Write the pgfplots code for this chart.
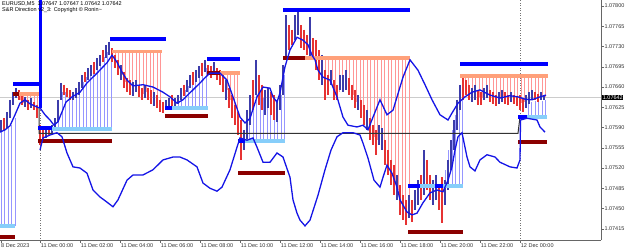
\documentclass[border=0pt]{standalone}
\usepackage{fontspec}
\setmainfont{Liberation Sans}
\usepackage{pgfplots}
\pgfplotsset{compat=1.18}
\definecolor{cblue}{RGB}{0,0,255}
\definecolor{ccurve}{RGB}{20,20,230}
\definecolor{clblue}{RGB}{135,206,250}
\definecolor{cdred}{RGB}{139,0,0}
\definecolor{csalmon}{RGB}{255,160,122}
\definecolor{chsalmon}{RGB}{255,150,150}
\definecolor{chlav}{RGB}{150,150,255}
\definecolor{cup}{RGB}{60,60,170}
\definecolor{cdown}{RGB}{230,50,50}
\begin{document}
\begin{tikzpicture}[x=1pt,y=1pt]
\useasboundingbox (0,-10) rectangle (625,240);
\begin{axis}[
  scale only axis, width=601pt, height=240pt, at={(0,0)}, anchor=south west,
  xmin=0, xmax=601, ymin=1.073956, ymax=1.078104,
  axis x line*=bottom, axis y line*=right,
  axis line style={draw=black!60, line width=0.6pt},
  tick align=outside, major tick length=2.5pt,
  tick style={black!60, line width=0.5pt},
  xtick={1,40.7,80.7,120.7,160.7,200.7,240.7,280.7,320.7,360.7,400.7,440.7,480.7,520.7},
  xticklabels={8 Dec 2023,11 Dec 00:00,11 Dec 02:00,11 Dec 04:00,11 Dec 06:00,11 Dec 08:00,11 Dec 10:00,11 Dec 12:00,11 Dec 14:00,11 Dec 16:00,11 Dec 18:00,11 Dec 20:00,11 Dec 22:00,12 Dec 00:00},
  ytick={1.07415,1.07450,1.07485,1.07520,1.07555,1.07590,1.07625,1.07660,1.07695,1.07730,1.07765,1.07800},
  yticklabels={1.07415,1.07450,1.07485,1.07520,1.07555,1.07590,1.07625,1.07660,1.07695,1.07730,1.07765,1.07800},
  xticklabel style={anchor=north west, inner sep=0.5pt, xshift=-0.5pt, font=\fontsize{5.5}{6}\selectfont, text=black!80},
  yticklabel style={anchor=west, inner sep=0.8pt, font=\fontsize{5.5}{6}\selectfont, text=black!80},
  scaled y ticks=false,
  unbounded coords=jump,
]
% day separators and current price line
\addplot[black!55, dotted, line width=0.5pt] coordinates {(40.7,1.0739)(40.7,1.0782)};
\addplot[black!55, dotted, line width=0.5pt] coordinates {(520.7,1.0739)(520.7,1.0782)};
\addplot[black!20, line width=0.5pt] coordinates {(0,1.07642)(601,1.07642)};
% lavender histograms
\addplot[chlav, line width=0.7pt] coordinates {
(1,1.07420)(1,1.07586)(1,nan)(4.5,1.07420)(4.5,1.07586)(4.5,nan)(8,1.07420)(8,1.07589)(8,nan)(11.5,1.07420)(11.5,1.07594)(11.5,nan)(15,1.07420)(15,1.07606)(15,nan)
(55,1.07587)(55,1.07594)(55,nan)(58.5,1.07587)(58.5,1.07620)(58.5,nan)(62,1.07587)(62,1.07651)(62,nan)(65.5,1.07587)(65.5,1.07651)(65.5,nan)(69,1.07587)(69,1.07646)(69,nan)(72.5,1.07587)(72.5,1.07645)(72.5,nan)(76,1.07587)(76,1.07650)(76,nan)(79.5,1.07587)(79.5,1.07658)(79.5,nan)(83,1.07587)(83,1.07669)(83,nan)(86.5,1.07587)(86.5,1.07677)(86.5,nan)(90,1.07587)(90,1.07686)(90,nan)(93.5,1.07587)(93.5,1.07689)(93.5,nan)(97,1.07587)(97,1.07696)(97,nan)(100.5,1.07587)(100.5,1.07703)(100.5,nan)(104,1.07587)(104,1.07712)(104,nan)(107.5,1.07587)(107.5,1.07721)(107.5,nan)(111,1.07587)(111,1.07715)(111,nan)
(178,1.07624)(178,1.07638)(178,nan)(181.5,1.07624)(181.5,1.07646)(181.5,nan)(185,1.07624)(185,1.07655)(185,nan)(188.5,1.07624)(188.5,1.07662)(188.5,nan)(192,1.07624)(192,1.07672)(192,nan)(195.5,1.07624)(195.5,1.07679)(195.5,nan)(199,1.07624)(199,1.07686)(199,nan)(202.5,1.07624)(202.5,1.07689)(202.5,nan)(206,1.07624)(206,1.07693)(206,nan)
(246,1.07567)(246,1.07577)(246,nan)(249.5,1.07567)(249.5,1.07612)(249.5,nan)(253,1.07567)(253,1.07638)(253,nan)(256.5,1.07567)(256.5,1.07664)(256.5,nan)(260,1.07567)(260,1.07655)(260,nan)(263.5,1.07567)(263.5,1.07641)(263.5,nan)(267,1.07567)(267,1.07641)(267,nan)(270.5,1.07567)(270.5,1.07638)(270.5,nan)(274,1.07567)(274,1.07629)(274,nan)(277.5,1.07567)(277.5,1.07624)(277.5,nan)(281,1.07567)(281,1.07646)(281,nan)(284.5,1.07567)(284.5,1.07681)(284.5,nan)
(445,1.07489)(445,1.07517)(445,nan)(448.5,1.07489)(448.5,1.07551)(448.5,nan)(452,1.07489)(452,1.07586)(452,nan)(455.5,1.07489)(455.5,1.07612)(455.5,nan)(459,1.07489)(459,1.07629)(459,nan)(462.5,1.07489)(462.5,1.07638)(462.5,nan)
(528,1.07608)(528,1.07631)(528,nan)(531.5,1.07608)(531.5,1.07634)(531.5,nan)(535,1.07608)(535,1.07636)(535,nan)(538.5,1.07608)(538.5,1.07634)(538.5,nan)(542,1.07608)(542,1.07636)(542,nan)(545.5,1.07608)(545.5,1.07638)(545.5,nan)
};
% salmon histograms
\addplot[chsalmon, line width=0.7pt] coordinates {
(20,1.07648)(20,1.07638)(20,nan)(23.5,1.07648)(23.5,1.07632)(23.5,nan)(27,1.07648)(27,1.07627)(27,nan)(30.5,1.07648)(30.5,1.07629)(30.5,nan)(34,1.07648)(34,1.07624)(34,nan)(37.5,1.07648)(37.5,1.07617)(37.5,nan)
(115,1.07721)(115,1.07703)(115,nan)(118.5,1.07721)(118.5,1.07693)(118.5,nan)(122,1.07721)(122,1.07681)(122,nan)(125.5,1.07721)(125.5,1.07669)(125.5,nan)(129,1.07721)(129,1.07660)(129,nan)(132.5,1.07721)(132.5,1.07655)(132.5,nan)(136,1.07721)(136,1.07660)(136,nan)(139.5,1.07721)(139.5,1.07655)(139.5,nan)(143,1.07721)(143,1.07648)(143,nan)(146.5,1.07721)(146.5,1.07651)(146.5,nan)(150,1.07721)(150,1.07646)(150,nan)(153.5,1.07721)(153.5,1.07641)(153.5,nan)(157,1.07721)(157,1.07636)(157,nan)(160.5,1.07721)(160.5,1.07629)(160.5,nan)
(220,1.07684)(220,1.07676)(220,nan)(223.5,1.07684)(223.5,1.07665)(223.5,nan)(227,1.07684)(227,1.07655)(227,nan)(230.5,1.07684)(230.5,1.07638)(230.5,nan)(234,1.07684)(234,1.07620)(234,nan)(237.5,1.07684)(237.5,1.07603)(237.5,nan)
(318,1.07710)(318,1.07689)(318,nan)(321.5,1.07710)(321.5,1.07681)(321.5,nan)(325,1.07710)(325,1.07658)(325,nan)(328.5,1.07710)(328.5,1.07655)(328.5,nan)(332,1.07710)(332,1.07672)(332,nan)(335.5,1.07710)(335.5,1.07651)(335.5,nan)(339,1.07710)(339,1.07651)(339,nan)(342.5,1.07710)(342.5,1.07664)(342.5,nan)(346,1.07710)(346,1.07669)(346,nan)(349.5,1.07710)(349.5,1.07658)(349.5,nan)(353,1.07710)(353,1.07646)(353,nan)(356.5,1.07710)(356.5,1.07634)(356.5,nan)(360,1.07710)(360,1.07620)(360,nan)(363.5,1.07710)(363.5,1.07612)(363.5,nan)(367,1.07710)(367,1.07600)(367,nan)(370.5,1.07710)(370.5,1.07586)(370.5,nan)(374,1.07710)(374,1.07574)(374,nan)(377.5,1.07710)(377.5,1.07568)(377.5,nan)(381,1.07710)(381,1.07574)(381,nan)(384.5,1.07710)(384.5,1.07551)(384.5,nan)(388,1.07710)(388,1.07530)(388,nan)(391.5,1.07710)(391.5,1.07513)(391.5,nan)(395,1.07710)(395,1.07496)(395,nan)(398.5,1.07710)(398.5,1.07482)(398.5,nan)(402,1.07710)(402,1.07456)(402,nan)(405.5,1.07710)(405.5,1.07444)(405.5,nan)(409,1.07710)(409,1.07453)(409,nan)
(465,1.07679)(465,1.07658)(465,nan)(468.5,1.07679)(468.5,1.07651)(468.5,nan)(472,1.07679)(472,1.07646)(472,nan)(475.5,1.07679)(475.5,1.07650)(475.5,nan)(479,1.07679)(479,1.07643)(479,nan)(482.5,1.07679)(482.5,1.07641)(482.5,nan)(486,1.07679)(486,1.07650)(486,nan)(489.5,1.07679)(489.5,1.07646)(489.5,nan)(493,1.07679)(493,1.07641)(493,nan)(496.5,1.07679)(496.5,1.07638)(496.5,nan)(500,1.07679)(500,1.07641)(500,nan)(503.5,1.07679)(503.5,1.07645)(503.5,nan)(507,1.07679)(507,1.07639)(507,nan)(510.5,1.07679)(510.5,1.07643)(510.5,nan)(514,1.07679)(514,1.07639)(514,nan)(517.5,1.07679)(517.5,1.07636)(517.5,nan)(521,1.07679)(521,1.07632)(521,nan)(524.5,1.07679)(524.5,1.07634)(524.5,nan)(528,1.07679)(528,1.07641)(528,nan)(531.5,1.07679)(531.5,1.07646)(531.5,nan)(535,1.07679)(535,1.07645)(535,nan)(538.5,1.07679)(538.5,1.07643)(538.5,nan)(542,1.07679)(542,1.07645)(542,nan)(545.5,1.07679)(545.5,1.07643)(545.5,nan)
};
% bullish candles
\addplot[cup, line width=1.2pt] coordinates {
(1,1.07603)(1,1.07582)(1,nan)(7,1.07617)(7,1.07589)(7,nan)(10,1.07638)(10,1.07606)(10,nan)(13,1.07651)(13,1.07629)(13,nan)(16,1.07658)(16,1.07641)(16,nan)(25,1.07643)(25,1.07625)(25,nan)(31,1.07641)(31,1.07624)(31,nan)
(46,1.07589)(46,1.07572)(46,nan)(52,1.07594)(52,1.07579)(52,nan)(55,1.07606)(55,1.07586)(55,nan)(58,1.07638)(58,1.07600)(58,nan)(61,1.07667)(61,1.07638)(61,nan)(73,1.07651)(73,1.07638)(73,nan)(76,1.07658)(76,1.07641)(76,nan)(79,1.07669)(79,1.07646)(79,nan)(82,1.07681)(82,1.07658)(82,nan)(88,1.07693)(88,1.07672)(88,nan)(91,1.07698)(91,1.07679)(91,nan)(97,1.07710)(97,1.07689)(97,nan)(100,1.07715)(100,1.07696)(100,nan)(106,1.07733)(106,1.07710)(106,nan)(109,1.07738)(109,1.07715)(109,nan)
(121,1.07698)(121,1.07672)(121,nan)(133,1.07669)(133,1.07645)(133,nan)(136,1.07672)(136,1.07651)(136,nan)(145,1.07664)(145,1.07641)(145,nan)(154,1.07651)(154,1.07627)(154,nan)(166,1.07638)(166,1.07620)(166,nan)(169,1.07641)(169,1.07624)(169,nan)(175,1.07641)(175,1.07627)(175,nan)(178,1.07646)(178,1.07631)(178,nan)(181,1.07658)(181,1.07638)(181,nan)(187,1.07672)(187,1.07651)(187,nan)(190,1.07681)(190,1.07658)(190,nan)(196,1.07689)(196,1.07669)(196,nan)(199,1.07696)(199,1.07676)(199,nan)(205,1.07707)(205,1.07686)(205,nan)(214,1.07703)(214,1.07681)(214,nan)(226,1.07672)(226,1.07638)(226,nan)
(244,1.07586)(244,1.07551)(244,nan)(247,1.07620)(247,1.07568)(247,nan)(250,1.07646)(250,1.07594)(250,nan)(256,1.07707)(256,1.07646)(256,nan)(265,1.07655)(265,1.07612)(265,nan)(268,1.07658)(268,1.07624)(268,nan)(277,1.07638)(277,1.07600)(277,nan)(280,1.07664)(280,1.07620)(280,nan)(283,1.07698)(283,1.07646)(283,nan)(286,1.07784)(286,1.07707)(286,nan)(295,1.07784)(295,1.07741)(295,nan)(298,1.07790)(298,1.07750)(298,nan)(310,1.07781)(310,1.07712)(310,nan)(322,1.07715)(322,1.07664)(322,nan)(331,1.07689)(331,1.07664)(331,nan)(340,1.07681)(340,1.07655)(340,nan)(343,1.07681)(343,1.07651)(343,nan)(346,1.07689)(346,1.07655)(346,nan)(358,1.07646)(358,1.07620)(358,nan)(367,1.07620)(367,1.07586)(367,nan)(379,1.07594)(379,1.07560)(379,nan)(382,1.07589)(382,1.07551)(382,nan)
(397,1.07508)(397,1.07465)(397,nan)(409,1.07473)(409,1.07434)(409,nan)(415,1.07482)(415,1.07447)(415,nan)(418,1.07499)(418,1.07456)(418,nan)(424,1.07551)(424,1.07473)(424,nan)(433,1.07499)(433,1.07456)(433,nan)(436,1.07508)(436,1.07465)(436,nan)(445,1.07499)(445,1.07456)(445,nan)(448,1.07534)(448,1.07482)(448,nan)(451,1.07568)(451,1.07517)(451,nan)(454,1.07603)(454,1.07551)(454,nan)(457,1.07638)(457,1.07586)(457,nan)(460,1.07664)(460,1.07620)(460,nan)(472,1.07658)(472,1.07634)(472,nan)(475,1.07664)(475,1.07638)(475,nan)(484,1.07658)(484,1.07638)(484,nan)(487,1.07664)(487,1.07641)(487,nan)(499,1.07651)(499,1.07631)(499,nan)(502,1.07655)(502,1.07634)(502,nan)(511,1.07651)(511,1.07634)(511,nan)(526,1.07646)(526,1.07624)(526,nan)(529,1.07651)(529,1.07631)(529,nan)(532,1.07655)(532,1.07638)(532,nan)(541,1.07651)(541,1.07638)(541,nan)(544,1.07647)(544,1.07638)(544,nan)
};
% bearish candles
\addplot[cdown, line width=1.2pt] coordinates {
(4,1.07606)(4,1.07586)(4,nan)(19,1.07655)(19,1.07638)(19,nan)(22,1.07646)(22,1.07629)(22,nan)(28,1.07638)(28,1.07620)(28,nan)(34,1.07634)(34,1.07620)(34,nan)(37,1.07629)(37,1.07606)(37,nan)(40,1.07594)(40,1.07560)(40,nan)(43,1.07586)(43,1.07565)(43,nan)(49,1.07593)(49,1.07575)(49,nan)
(64,1.07664)(64,1.07646)(64,nan)(67,1.07658)(67,1.07643)(67,nan)(70,1.07655)(70,1.07638)(70,nan)(85,1.07686)(85,1.07669)(85,nan)(94,1.07703)(94,1.07682)(94,nan)(103,1.07724)(103,1.07703)(103,nan)(112,1.07727)(112,1.07703)(112,nan)(115,1.07715)(115,1.07693)(115,nan)(118,1.07707)(118,1.07681)(118,nan)(124,1.07686)(124,1.07658)(124,nan)(127,1.07676)(127,1.07651)(127,nan)(130,1.07672)(130,1.07646)(130,nan)(139,1.07664)(139,1.07643)(139,nan)(142,1.07658)(142,1.07638)(142,nan)(148,1.07658)(148,1.07638)(148,nan)(151,1.07655)(151,1.07631)(151,nan)(157,1.07646)(157,1.07624)(157,nan)(160,1.07638)(160,1.07617)(160,nan)(163,1.07634)(163,1.07615)(163,nan)(172,1.07646)(172,1.07627)(172,nan)(184,1.07664)(184,1.07645)(184,nan)(193,1.07686)(193,1.07664)(193,nan)(202,1.07702)(202,1.07679)(202,nan)(208,1.07698)(208,1.07681)(208,nan)(211,1.07696)(211,1.07676)(211,nan)(217,1.07693)(217,1.07672)(217,nan)(220,1.07689)(220,1.07664)(220,nan)(223,1.07681)(223,1.07651)(223,nan)(229,1.07658)(229,1.07624)(229,nan)(232,1.07646)(232,1.07606)(232,nan)(235,1.07629)(235,1.07594)(235,nan)(238,1.07617)(238,1.07577)(238,nan)(241,1.07603)(241,1.07534)(241,nan)
(253,1.07672)(253,1.07620)(253,nan)(259,1.07681)(259,1.07629)(259,nan)(262,1.07664)(262,1.07620)(262,nan)(271,1.07651)(271,1.07612)(271,nan)(274,1.07646)(274,1.07603)(274,nan)(289,1.07767)(289,1.07724)(289,nan)(292,1.07759)(292,1.07733)(292,nan)(301,1.07767)(301,1.07727)(301,nan)(304,1.07759)(304,1.07724)(304,nan)(307,1.07750)(307,1.07715)(307,nan)(313,1.07745)(313,1.07707)(313,nan)(316,1.07741)(316,1.07689)(316,nan)(319,1.07724)(319,1.07672)(319,nan)(325,1.07689)(325,1.07638)(325,nan)(328,1.07681)(328,1.07646)(328,nan)(334,1.07672)(334,1.07638)(334,nan)(337,1.07664)(337,1.07638)(337,nan)(349,1.07676)(349,1.07646)(349,nan)(352,1.07664)(352,1.07638)(352,nan)(355,1.07655)(355,1.07624)(355,nan)(361,1.07638)(361,1.07606)(361,nan)(364,1.07629)(364,1.07594)(364,nan)(370,1.07606)(370,1.07568)(370,nan)(373,1.07594)(373,1.07560)(373,nan)(376,1.07586)(376,1.07543)(376,nan)
(385,1.07568)(385,1.07525)(385,nan)(388,1.07551)(388,1.07508)(388,nan)(391,1.07534)(391,1.07491)(391,nan)(394,1.07525)(394,1.07473)(394,nan)(400,1.07491)(400,1.07439)(400,nan)(403,1.07473)(403,1.07430)(403,nan)(406,1.07465)(406,1.07422)(406,nan)(412,1.07465)(412,1.07427)(412,nan)(421,1.07508)(421,1.07465)(421,nan)(427,1.07534)(427,1.07482)(427,nan)(430,1.07508)(430,1.07465)(430,nan)(439,1.07491)(439,1.07447)(439,nan)(442,1.07504)(442,1.07425)(442,nan)
(463,1.07681)(463,1.07638)(463,nan)(466,1.07672)(466,1.07646)(466,nan)(469,1.07664)(469,1.07638)(469,nan)(478,1.07655)(478,1.07629)(478,nan)(481,1.07651)(481,1.07629)(481,nan)(490,1.07655)(490,1.07634)(490,nan)(493,1.07651)(493,1.07631)(493,nan)(496,1.07646)(496,1.07627)(496,nan)(505,1.07651)(505,1.07631)(505,nan)(508,1.07646)(508,1.07629)(508,nan)(514,1.07646)(514,1.07631)(514,nan)(517,1.07645)(517,1.07627)(517,nan)(520,1.07646)(520,1.07620)(520,nan)(523,1.07641)(523,1.07617)(523,nan)(535,1.07651)(535,1.07638)(535,nan)(538,1.07648)(538,1.07634)(538,nan)
};
% black line
\addplot[black!80, line width=1pt] coordinates {(39,1.07624)(39,1.07580)(518,1.07580)(520,1.07608)};
% resistance segments (blue)
\addplot[cblue, line width=4pt] coordinates {(13,1.07665)(40,1.07665)};
\addplot[cblue, line width=4pt] coordinates {(110,1.07743)(166,1.07743)};
\addplot[cblue, line width=4pt] coordinates {(207,1.07708)(240,1.07708)};
\addplot[cblue, line width=4pt] coordinates {(283,1.07793)(410,1.07793)};
\addplot[cblue, line width=4pt] coordinates {(460,1.07700)(548,1.07700)};
% salmon levels with dark red starts
\addplot[cdred, line width=3.5pt] coordinates {(13,1.07648)(19,1.07648)};
\addplot[csalmon, line width=3.5pt] coordinates {(19,1.07648)(40,1.07648)};
\addplot[csalmon, line width=3.5pt] coordinates {(112,1.07721)(162,1.07721)};
\addplot[cdred, line width=3.5pt] coordinates {(207,1.07684)(220,1.07684)};
\addplot[csalmon, line width=3.5pt] coordinates {(220,1.07684)(240,1.07684)};
\addplot[cdred, line width=3.5pt] coordinates {(283,1.07710)(305,1.07710)};
\addplot[csalmon, line width=3.5pt] coordinates {(305,1.07710)(410,1.07710)};
\addplot[csalmon, line width=3.5pt] coordinates {(460,1.07679)(548,1.07679)};
% support segments
\addplot[clblue, line width=4pt] coordinates {(0,1.07420)(15,1.07420)};
\addplot[cdred, line width=4pt] coordinates {(0,1.07401)(15,1.07401)};
\addplot[clblue, line width=4pt] coordinates {(52,1.07587)(112,1.07587)};
\addplot[cblue, line width=4pt] coordinates {(38,1.07589)(52,1.07589)};
\addplot[cdred, line width=4pt] coordinates {(38,1.07567)(112,1.07567)};
\addplot[clblue, line width=4pt] coordinates {(172,1.07624)(208,1.07624)};
\addplot[cblue, line width=4pt] coordinates {(165,1.07624)(172,1.07624)};
\addplot[cdred, line width=4pt] coordinates {(165,1.07610)(208,1.07610)};
\addplot[clblue, line width=4pt] coordinates {(245,1.07567)(285,1.07567)};
\addplot[cblue, line width=4pt] coordinates {(238,1.07567)(245,1.07567)};
\addplot[cdred, line width=4pt] coordinates {(238,1.07511)(285,1.07511)};
\addplot[clblue, line width=4pt] coordinates {(420,1.07489)(463,1.07489)};
\addplot[cblue, line width=4pt] coordinates {(408,1.07489)(420,1.07489)};
\addplot[cblue, line width=4pt] coordinates {(435,1.07489)(443,1.07489)};
\addplot[cdred, line width=4pt] coordinates {(408,1.07409)(463,1.07409)};
\addplot[clblue, line width=4pt] coordinates {(527,1.07608)(547,1.07608)};
\addplot[cblue, line width=4pt] coordinates {(518,1.07608)(527,1.07608)};
\addplot[cdred, line width=4pt] coordinates {(518,1.07565)(547,1.07565)};
% indicator curves
\addplot[ccurve, line width=1.3pt] coordinates {(0,1.07582)(5,1.07586)(10,1.07593)(15,1.07612)(20,1.07632)(25,1.07638)(30,1.07631)(35,1.07627)(39,1.07624)};
\addplot[cblue, line width=3pt] coordinates {(40,1.07815)(40,1.07624)};
\addplot[ccurve, line width=1.3pt] coordinates {(40,1.07624)(45,1.07612)(50,1.07603)(54,1.07594)(58,1.07600)(62,1.07617)(66,1.07634)(72,1.07643)(80,1.07651)(87,1.07667)(97,1.07684)(107,1.07702)(112,1.07715)(117,1.07703)(122,1.07686)(127,1.07672)(133,1.07662)(143,1.07664)(153,1.07660)(163,1.07651)(170,1.07643)(177,1.07632)(183,1.07638)(190,1.07650)(200,1.07667)(205,1.07676)(210,1.07684)(220,1.07684)(227,1.07672)(233,1.07643)(240,1.07608)(245,1.07598)(250,1.07606)(257,1.07643)(263,1.07660)(270,1.07658)(273,1.07643)(277,1.07634)(280,1.07650)(285,1.07695)(290,1.07724)(297,1.07746)(303,1.07741)(308,1.07733)(312,1.07715)(315,1.07707)(318,1.07689)(323,1.07677)(330,1.07672)(337,1.07643)(343,1.07608)(348,1.07594)(357,1.07591)(363,1.07594)(368,1.07586)(373,1.07608)(380,1.07638)(387,1.07612)(393,1.07620)(403,1.07677)(410,1.07707)(418,1.07689)(425,1.07664)(432,1.07638)(440,1.07612)(448,1.07603)(452,1.07615)(458,1.07632)(465,1.07643)(472,1.07651)(480,1.07655)(490,1.07646)(500,1.07641)(510,1.07645)(518,1.07643)(525,1.07639)(532,1.07638)(540,1.07643)(546,1.07646)};
\addplot[ccurve, line width=1.3pt] coordinates {(40,1.07551)(43,1.07572)(50,1.07577)(57,1.07581)(62,1.07574)(67,1.07546)(73,1.07522)(80,1.07520)(87,1.07511)(93,1.07482)(100,1.07470)(107,1.07461)(113,1.07453)(118,1.07465)(127,1.07499)(133,1.07508)(143,1.07508)(153,1.07517)(163,1.07534)(173,1.07539)(180,1.07539)(187,1.07534)(197,1.07522)(203,1.07494)(210,1.07485)(217,1.07480)(222,1.07487)(230,1.07517)(237,1.07556)(240,1.07572)(247,1.07568)(253,1.07572)(257,1.07556)(263,1.07530)(270,1.07530)(277,1.07546)(283,1.07539)(290,1.07504)(293,1.07465)(297,1.07442)(300,1.07430)(305,1.07420)(310,1.07430)(318,1.07473)(325,1.07517)(331,1.07551)(337,1.07574)(343,1.07581)(353,1.07581)(360,1.07577)(363,1.07563)(368,1.07537)(374,1.07499)(380,1.07487)(383,1.07504)(387,1.07525)(392,1.07511)(397,1.07487)(400,1.07465)(407,1.07444)(412,1.07439)(417,1.07442)(423,1.07460)(430,1.07477)(437,1.07482)(443,1.07479)(448,1.07499)(452,1.07522)(455,1.07551)(458,1.07574)(462,1.07581)(467,1.07539)(470,1.07522)(475,1.07515)(480,1.07534)(487,1.07543)(495,1.07539)(500,1.07530)(510,1.07522)(517,1.07520)(520,1.07534)(520.5,1.07603)(527,1.07606)(537,1.07603)(540,1.07591)(545,1.07582)};
\coordinate (pl) at (axis cs:601,1.07642);
\end{axis}
\node[fill=black, text=white, anchor=west, inner sep=0.7pt, font=\fontsize{5.5}{6}\selectfont] at ([xshift=1pt]pl) {1.07642};
\node[anchor=north west, inner sep=0pt, font=\fontsize{5.5}{6.5}\selectfont, align=left] at (2,239) {EURUSD,M5\ \ 1.07647 1.07647 1.07642 1.07642\\S\&R Direction v2\_3: Copyright \textcopyright{} Ronin\textasciitilde};
\end{tikzpicture}
\end{document}
